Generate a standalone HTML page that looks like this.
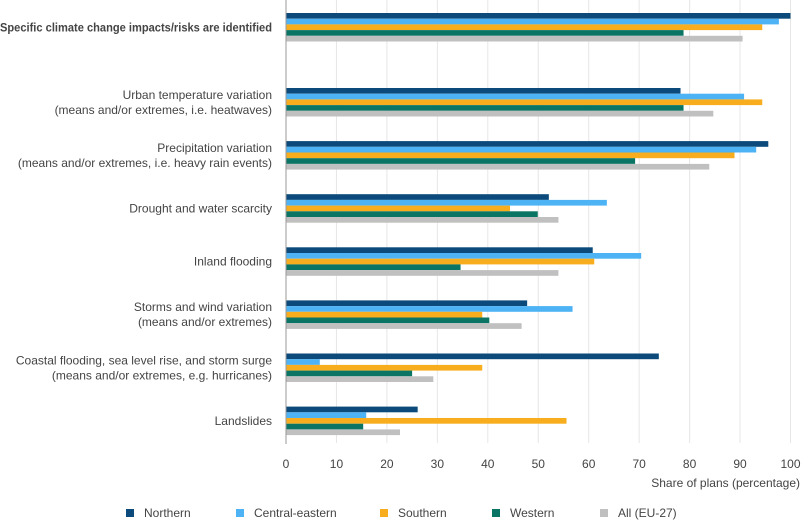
<!DOCTYPE html>
<html><head><meta charset="utf-8"><style>
body{margin:0;background:#fff;}
svg{display:block;font-family:"Liberation Sans",sans-serif;}
</style></head><body>
<svg id="chart" width="804" height="520"></svg>
<script>
const categories=[["Specific climate change impacts/risks are identified"],["Urban temperature variation","(means and/or extremes, i.e. heatwaves)"],["Precipitation variation","(means and/or extremes, i.e. heavy rain events)"],["Drought and water scarcity"],["Inland flooding"],["Storms and wind variation","(means and/or extremes)"],["Coastal flooding, sea level rise, and storm surge","(means and/or extremes, e.g. hurricanes)"],["Landslides"]];
const seriesNames=["Northern","Central-eastern","Southern","Western","All (EU-27)"];
const northern=[100,78.2,95.6,52.1,60.8,47.8,73.9,26.1];
const centralEastern=[97.7,90.8,93.2,63.6,70.4,56.8,6.7,15.9];
const southern=[94.4,94.4,88.9,44.4,61.1,38.9,38.9,55.6];
const western=[78.8,78.8,69.2,49.9,34.6,40.3,25.0,15.3];
const allEU=[90.5,84.7,83.9,54.0,54.0,46.7,29.2,22.6];
const ticks=[0,10,20,30,40,50,60,70,80,90,100];
const series=[northern,centralEastern,southern,western,allEU];
const colors=["#0b4a7a","#4db3f5","#f7ad1e","#0a7565","#c0c0c0"];
const NS="http://www.w3.org/2000/svg";
const svg=document.getElementById('chart');
const x0=286,x1=790.5;
const xs=v=>x0+(x1-x0)*v/100;
const groupTop=i=>i===0?13:88+(i-1)*53.1;
const bh=5.7;
function mk(t,a,p){const e=document.createElementNS(NS,t);for(const k in a)e.setAttribute(k,a[k]);(p||svg).appendChild(e);return e;}
ticks.forEach(t=>{
  if(t>0){const g=mk('line',{x1:xs(t),x2:xs(t),y1:0,y2:443,stroke:'#e6e6e6','stroke-width':1});
  
  }
  const l=mk('text',{x:xs(t),y:468,'text-anchor':'middle','font-size':12,fill:'#444'});l.textContent=t;
  
  
});
categories.forEach((c,i)=>{
  const top=groupTop(i);
  series.forEach((s,j)=>{
    const r=mk('rect',{x:x0,y:top+j*bh,width:xs(s[i])-x0,height:bh,fill:colors[j]});
    
    
  });
  const mid=top+2.5*bh;
  const n=c.length;
  c.forEach((line,k)=>{
    const attrs={x:272,y:mid+4+(k-(n-1)/2)*15,'text-anchor':'end','font-size':12,fill:'#444','font-weight':i===0?'bold':'normal'};
    if(i===0){attrs.x=0;attrs['text-anchor']='start';attrs.textLength=272;attrs.lengthAdjust='spacingAndGlyphs';}
    const t=mk('text',attrs);
    t.textContent=line;
    
    
  });
});
const ax=mk('line',{x1:x0,x2:x0,y1:0,y2:444,stroke:'#999','stroke-width':1});


const at=mk('text',{x:800,y:487,'text-anchor':'end','font-size':12,fill:'#444'});at.textContent='Share of plans (percentage)';


const lx=[126,236,380,492,600];
seriesNames.forEach((s,j)=>{
  const r=mk('rect',{x:lx[j],y:509,width:8,height:8,fill:colors[j]});
  
  
  const t=mk('text',{x:lx[j]+18,y:517,'font-size':12,fill:'#444'});t.textContent=s;
  
  
});
</script>
</body></html>
